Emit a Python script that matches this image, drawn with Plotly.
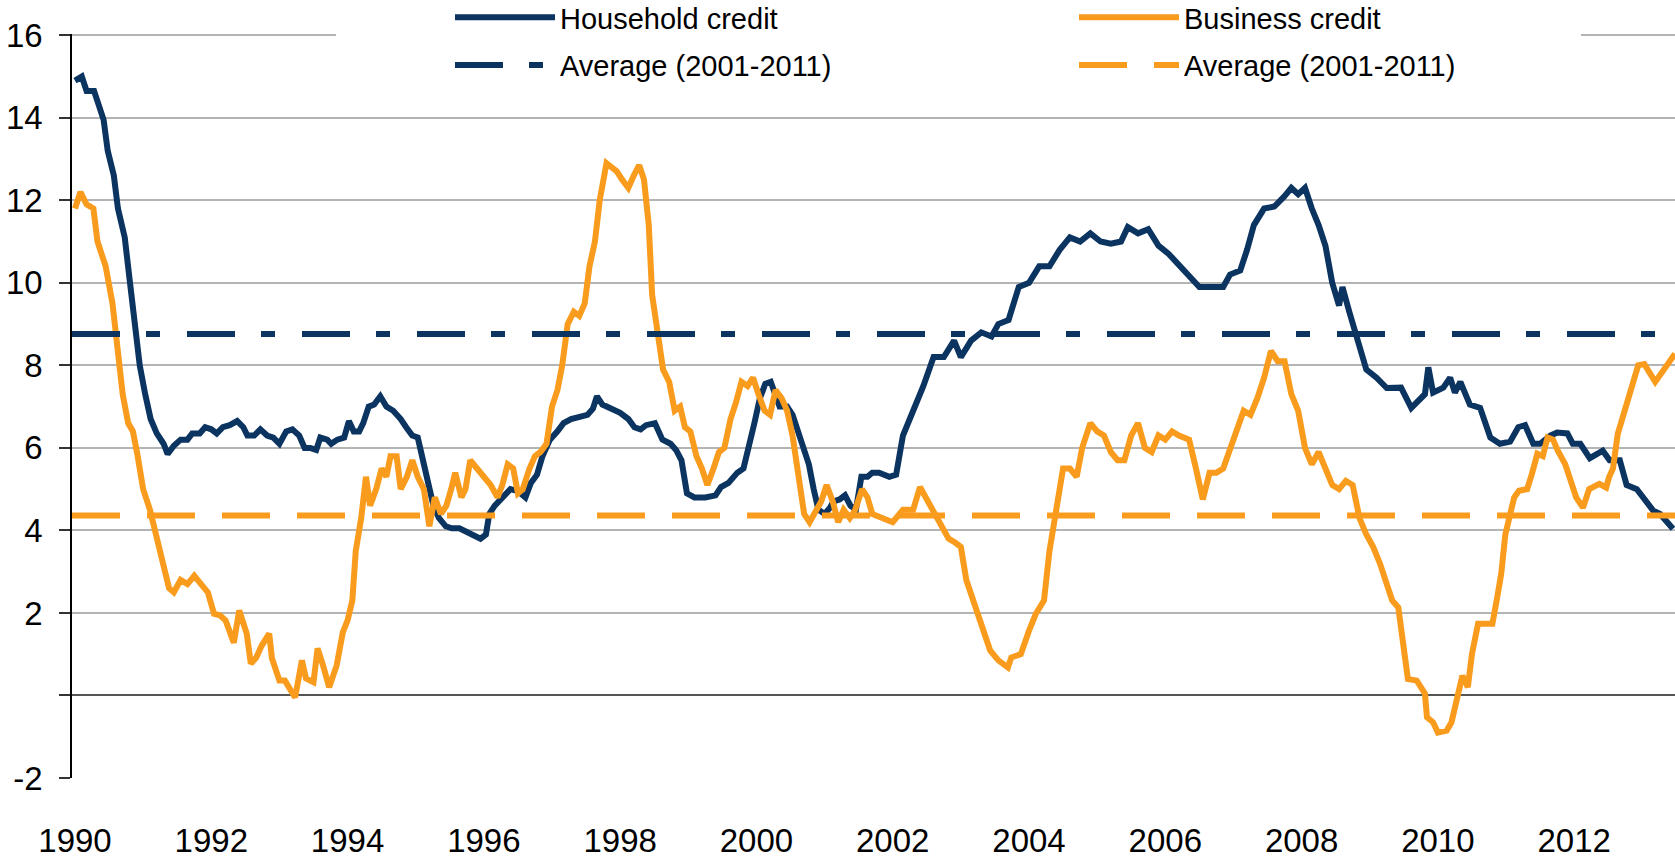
import plotly.graph_objects as go

# ---------------- data (decimal years, % growth) ----------------
hh_years = [1990.00,1990.10,1990.17,1990.28,1990.35,1990.42,1990.48,1990.57,1990.63,1990.73,1990.80,1990.87,1990.95,
            1991.03,1991.11,1991.20,1991.30,1991.36,1991.45,1991.55,1991.65,1991.72,1991.83,1991.91,1992.00,1992.08,
            1992.17,1992.27,1992.38,1992.47,1992.53,1992.63,1992.72,1992.82,1992.91,1993.00,1993.10,1993.19,1993.29,
            1993.37,1993.45,1993.54,1993.60,1993.70,1993.76,1993.85,1993.95,1994.02,1994.09,1994.17,1994.23,1994.31,
            1994.39,1994.48,1994.57,1994.67,1994.78,1994.86,1994.95,1995.03,1995.11,1995.19,1995.26,1995.34,1995.44,
            1995.53,1995.64,1995.75,1995.84,1995.95,1996.03,1996.08,1996.16,1996.27,1996.39,1996.50,1996.61,1996.69,
            1996.78,1996.86,1996.97,1997.08,1997.17,1997.28,1997.39,1997.52,1997.60,1997.66,1997.74,1997.87,1998.00,
            1998.12,1998.21,1998.30,1998.38,1998.51,1998.62,1998.74,1998.82,1998.90,1998.98,1999.09,1999.25,1999.40,
            1999.48,1999.59,1999.72,1999.81,1999.89,1999.97,2000.05,2000.13,2000.21,2000.27,2000.34,2000.45,2000.53,
            2000.61,2000.69,2000.77,2000.84,2000.91,2001.00,2001.08,2001.13,2001.22,2001.30,2001.38,2001.46,2001.54,
            2001.63,2001.70,2001.80,2001.95,2002.05,2002.15,2002.30,2002.45,2002.60,2002.75,2002.90,2003.00,2003.15,
            2003.30,2003.45,2003.55,2003.70,2003.85,2004.00,2004.15,2004.30,2004.45,2004.60,2004.75,2004.90,2005.05,
            2005.20,2005.35,2005.45,2005.60,2005.75,2005.90,2006.05,2006.20,2006.35,2006.50,2006.70,2006.85,2006.95,
            2007.10,2007.20,2007.30,2007.45,2007.60,2007.75,2007.85,2007.95,2008.05,2008.15,2008.25,2008.35,2008.45,
            2008.55,2008.60,2008.70,2008.85,2008.95,2009.10,2009.25,2009.46,2009.61,2009.81,2009.86,2009.93,2010.08,
            2010.18,2010.25,2010.33,2010.47,2010.62,2010.77,2010.91,2011.06,2011.18,2011.28,2011.40,2011.50,2011.65,
            2011.75,2011.90,2011.98,2012.09,2012.23,2012.42,2012.52,2012.67,2012.77,2012.92,2013.16,2013.26,2013.45]
hh_values = [14.9,15.0,14.65,14.65,14.3,13.95,13.2,12.6,11.8,11.1,10.1,9.2,8.0,
             7.3,6.7,6.35,6.1,5.85,6.05,6.2,6.2,6.35,6.35,6.5,6.45,6.35,
             6.5,6.55,6.65,6.5,6.3,6.3,6.45,6.3,6.25,6.1,6.4,6.45,6.3,
             6.0,6.0,5.95,6.25,6.2,6.1,6.2,6.25,6.65,6.4,6.4,6.6,7.0,
             7.05,7.25,7.0,6.9,6.7,6.5,6.3,6.25,5.6,5.1,4.6,4.3,4.1,
             4.05,4.05,3.95,3.9,3.8,3.9,4.4,4.6,4.8,5.0,4.95,4.8,5.15,
             5.35,5.8,6.2,6.4,6.6,6.7,6.75,6.8,6.95,7.25,7.05,6.95,6.85,
             6.7,6.5,6.45,6.55,6.6,6.2,6.1,5.95,5.7,4.9,4.8,4.8,4.85,
             5.05,5.15,5.4,5.5,6.0,6.6,7.2,7.55,7.6,7.3,7.0,7.0,6.8,
             6.4,6.0,5.6,5.0,4.5,4.4,4.55,4.7,4.75,4.85,4.6,4.5,5.3,
             5.3,5.4,5.4,5.3,5.35,6.3,6.9,7.5,8.2,8.2,8.6,8.2,8.6,
             8.8,8.7,9.0,9.1,9.9,10.0,10.4,10.4,10.8,11.1,11.0,11.2,11.0,
             10.95,11.0,11.35,11.2,11.3,10.9,10.7,10.45,10.2,9.9,9.9,9.9,10.2,
             10.3,10.8,11.4,11.8,11.85,12.1,12.3,12.15,12.3,11.8,11.4,10.9,10.0,
             9.45,9.9,9.3,8.5,7.9,7.7,7.45,7.46,6.97,7.3,7.95,7.34,7.46,
             7.7,7.34,7.6,7.05,6.97,6.25,6.1,6.15,6.5,6.55,6.1,6.1,6.3,
             6.37,6.35,6.1,6.1,5.75,5.93,5.7,5.7,5.1,5.0,4.48,4.4,4.04]

bus_years = [1990.00,1990.08,1990.17,1990.27,1990.33,1990.45,1990.55,1990.62,1990.70,1990.78,1990.85,1990.92,1991.00,
             1991.10,1991.20,1991.30,1991.38,1991.45,1991.55,1991.65,1991.75,1991.85,1991.95,1992.04,1992.13,1992.21,
             1992.27,1992.33,1992.41,1992.52,1992.58,1992.66,1992.74,1992.85,1992.89,1993.00,1993.08,1993.17,1993.23,
             1993.33,1993.39,1993.50,1993.56,1993.64,1993.73,1993.84,1993.93,1994.00,1994.07,1994.12,1994.20,1994.27,
             1994.33,1994.42,1994.50,1994.57,1994.63,1994.72,1994.78,1994.87,1994.95,1995.03,1995.12,1995.20,1995.28,
             1995.37,1995.45,1995.52,1995.58,1995.67,1995.73,1995.80,1995.90,1996.00,1996.10,1996.20,1996.27,1996.35,
             1996.43,1996.50,1996.57,1996.67,1996.75,1996.83,1996.92,1997.00,1997.08,1997.15,1997.23,1997.32,1997.40,
             1997.48,1997.55,1997.63,1997.70,1997.80,1997.88,1997.95,1998.03,1998.12,1998.20,1998.28,1998.35,1998.42,
             1998.47,1998.55,1998.63,1998.72,1998.80,1998.88,1998.95,1999.03,1999.12,1999.20,1999.28,1999.37,1999.45,
             1999.53,1999.62,1999.70,1999.78,1999.87,1999.95,2000.03,2000.12,2000.20,2000.28,2000.37,2000.45,2000.53,
             2000.62,2000.70,2000.78,2000.87,2000.95,2001.03,2001.12,2001.20,2001.28,2001.37,2001.45,2001.55,2001.63,
             2001.70,2001.85,2002.00,2002.15,2002.30,2002.40,2002.55,2002.70,2002.82,2002.92,2003.00,2003.08,2003.18,
             2003.27,2003.33,2003.43,2003.55,2003.69,2003.74,2003.88,2004.00,2004.10,2004.22,2004.30,2004.40,2004.50,
             2004.60,2004.70,2004.78,2004.90,2005.00,2005.10,2005.20,2005.30,2005.40,2005.50,2005.60,2005.70,2005.80,
             2005.90,2006.00,2006.10,2006.20,2006.35,2006.45,2006.55,2006.65,2006.75,2006.85,2006.95,2007.05,2007.15,
             2007.25,2007.35,2007.45,2007.55,2007.65,2007.75,2007.85,2007.95,2008.05,2008.15,2008.25,2008.35,2008.45,
             2008.55,2008.65,2008.75,2008.85,2008.95,2009.05,2009.15,2009.33,2009.42,2009.49,2009.56,2009.69,2009.81,
             2009.84,2009.93,2010.00,2010.13,2010.20,2010.28,2010.36,2010.44,2010.50,2010.59,2010.80,2010.87,2010.93,
             2010.99,2011.05,2011.12,2011.19,2011.31,2011.38,2011.46,2011.54,2011.61,2011.69,2011.76,2011.87,2011.91,
             2012.03,2012.13,2012.22,2012.37,2012.47,2012.51,2012.57,2012.64,2012.79,2012.94,2013.03,2013.19,2013.48]
bus_values = [11.8,12.2,11.9,11.8,11.0,10.4,9.5,8.5,7.3,6.6,6.4,5.8,5.0,
              4.5,3.8,3.2,2.6,2.5,2.8,2.7,2.9,2.7,2.5,1.98,1.94,1.82,
              1.57,1.28,2.06,1.5,0.77,0.92,1.21,1.5,0.9,0.36,0.36,0.12,-0.05,
              0.85,0.41,0.32,1.14,0.73,0.2,0.73,1.53,1.82,2.3,3.5,4.3,5.3,
              4.6,5.0,5.5,5.3,5.8,5.8,5.0,5.3,5.7,5.3,5.0,4.1,4.8,
              4.4,4.6,5.0,5.4,4.8,5.0,5.7,5.5,5.3,5.1,4.8,5.1,5.6,
              5.5,4.9,5.0,5.5,5.8,5.9,6.1,7.0,7.4,8.0,9.0,9.3,9.2,
              9.5,10.4,11.0,12.0,12.9,12.8,12.7,12.5,12.3,12.6,12.85,12.5,11.4,
              9.7,8.7,7.9,7.6,6.9,7.0,6.5,6.4,5.8,5.5,5.1,5.5,5.9,
              6.0,6.7,7.1,7.6,7.5,7.7,7.3,6.9,6.8,7.4,7.2,6.9,6.3,
              5.4,4.4,4.2,4.5,4.7,5.1,4.7,4.2,4.5,4.3,4.5,5.0,4.8,
              4.4,4.3,4.2,4.5,4.5,5.05,4.6,4.2,3.8,3.7,3.6,2.8,2.3,
              1.82,1.5,1.09,0.85,0.68,0.92,1.0,1.57,1.98,2.3,3.5,4.5,5.5,
              5.5,5.3,6.0,6.6,6.4,6.3,5.9,5.7,5.7,6.3,6.6,6.0,5.9,
              6.3,6.2,6.4,6.3,6.2,5.5,4.75,5.4,5.4,5.5,6.0,6.5,6.9,
              6.8,7.2,7.7,8.35,8.1,8.1,7.3,6.9,6.0,5.6,5.9,5.5,5.1,
              5.0,5.2,5.1,4.3,3.9,3.6,3.2,2.3,2.13,1.33,0.4,0.36,0.05,
              -0.53,-0.65,-0.9,-0.85,-0.65,-0.12,0.48,0.2,1.0,1.74,1.74,2.37,2.95,
              3.9,4.36,4.8,4.96,5.0,5.37,5.86,5.8,6.25,6.2,5.93,5.6,5.37,
              4.8,4.55,5.0,5.13,5.04,5.28,5.5,6.34,7.14,8.0,8.03,7.6,8.28]

avg_years = [1989.956, 2013.48]
hh_avg = 8.76
bus_avg = 4.36

tick_years = [1990, 1992, 1994, 1996, 1998, 2000, 2002, 2004, 2006, 2008, 2010, 2012]
tick_labels = [str(y) for y in tick_years]
y_ticks = [-2, 0, 2, 4, 6, 8, 10, 12, 14, 16]
y_labels = ["-2", "", "2", "4", "6", "8", "10", "12", "14", "16"]

NAVY = "#0b3461"
ORANGE = "#f99b1c"
FONT = "Liberation Sans, Arial, sans-serif"

fig = go.Figure()
fig.add_trace(go.Scatter(x=hh_years, y=hh_values, mode="lines", name="Household credit",
                         line=dict(color=NAVY, width=6), legend="legend", legendgroup="hh"))
fig.add_trace(go.Scatter(x=bus_years, y=bus_values, mode="lines", name="Business credit",
                         line=dict(color=ORANGE, width=6), legend="legend2", legendgroup="bus"))
fig.add_trace(go.Scatter(x=avg_years, y=[hh_avg, hh_avg], mode="lines", name="Average (2001-2011)",
                         line=dict(color=NAVY, width=6, dash="48px,26px,14px,27px"),
                         legend="legend", legendgroup="hhavg"))
fig.add_trace(go.Scatter(x=avg_years, y=[bus_avg, bus_avg], mode="lines", name="Average (2001-2011)",
                         line=dict(color=ORANGE, width=6, dash="48px,27px"),
                         legend="legend2", legendgroup="busavg"))

W, H = 1675, 859
L, R, T, B = 72, 0, 34, 81
pw, ph = W - L - R, H - T - B
Y_TOP = 16.03

def px_x(X):
    return (X - L) / pw

def px_y(Y):
    return (H - B - Y) / ph

# white legend box that hides the top gridline behind the legend, as in the source
fig.add_shape(type="rect", xref="paper", yref="paper", x0=px_x(336), x1=px_x(1581),
              y0=px_y(95), y1=px_y(-2), fillcolor="white", line=dict(width=0), layer="above")

leg_common = dict(orientation="v", xanchor="left", yanchor="top", bgcolor="rgba(0,0,0,0)",
                  font=dict(family=FONT, size=29, color="#000000"), itemwidth=100,
                  tracegroupgap=7, traceorder="grouped")
fig.update_layout(
    width=W, height=H,
    margin=dict(l=L, r=R, t=T, b=B, pad=0, autoexpand=False),
    paper_bgcolor="white", plot_bgcolor="white",
    font=dict(family=FONT, size=33, color="#000000"),
    showlegend=True,
    legend=dict(x=px_x(450), y=px_y(-8), **leg_common),
    legend2=dict(x=px_x(1074), y=px_y(-8), **leg_common),
    xaxis=dict(range=[1989.956, 2013.48], tickmode="array", tickvals=tick_years, ticktext=tick_labels,
               showgrid=False, zeroline=False, showline=False, ticks="", ticklabelstandoff=40,
               tickfont=dict(family=FONT, size=33, color="#000000")),
    yaxis=dict(range=[-2, Y_TOP], tickmode="array", tickvals=y_ticks, ticktext=y_labels,
               showgrid=True, gridcolor="#b4b4b4", gridwidth=1.5,
               zeroline=True, zerolinecolor="#555555", zerolinewidth=1.5,
               showline=True, linecolor="#000000", linewidth=1.5,
               ticks="outside", ticklen=11, tickcolor="#333333", tickwidth=1.5,
               ticklabelstandoff=10,
               tickfont=dict(family=FONT, size=33, color="#000000")),
)

fig.write_html("out.html", config={"displayModeBar": False},
               post_script="document.body.style.margin='0';document.body.style.overflow='hidden';")
